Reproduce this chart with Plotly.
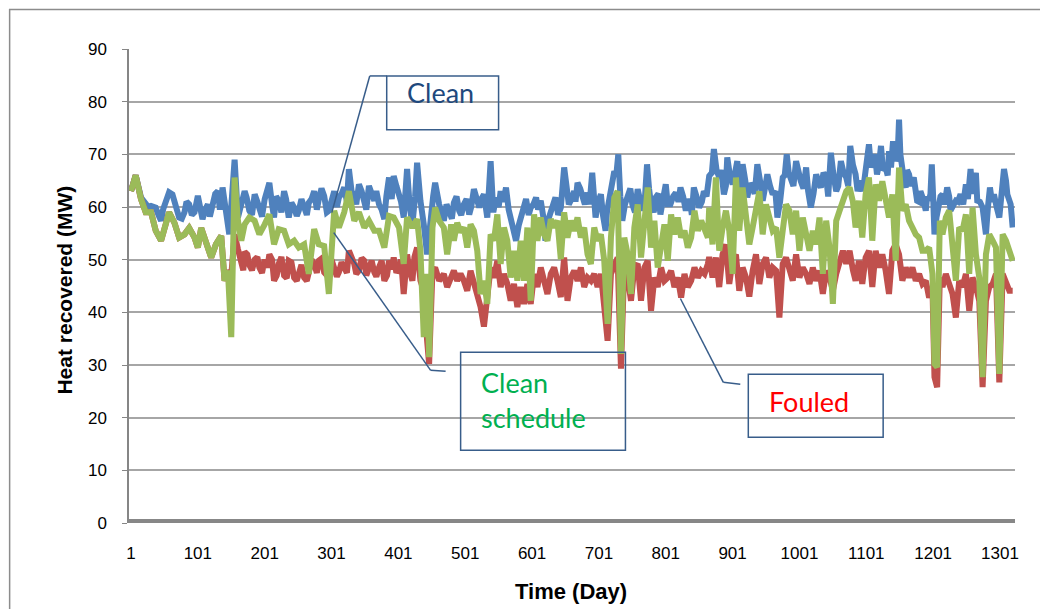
import plotly.graph_objects as go

# ---------------- data ----------------
clean_days = [1, 8, 16, 23, 31, 38, 46, 53, 63, 73, 81, 88, 96, 101, 108, 116, 123, 131, 138, 143, 148, 156, 161, 171, 178, 186, 193, 201, 208,
              215, 222, 230, 237, 245, 252, 260, 267, 275, 282, 290, 297, 305, 312, 320, 327, 335, 342, 350, 357, 365, 372, 380, 387, 394, 402, 409, 414, 422, 429,
              434, 439, 444, 450, 456, 462, 469, 477, 484, 492, 499, 507, 514, 522, 529, 534, 539, 547, 554, 562, 569, 577, 584, 592, 599, 607, 614, 621, 629, 636, 644, 649,
              656, 664, 669, 676, 684, 691, 696, 704, 711, 716, 724, 730, 736, 744, 751, 759, 766, 773, 779, 786, 793, 801, 808, 816, 823, 831, 838, 843, 851, 858, 866,
              873, 881, 888, 893, 901, 908, 916, 923, 931, 938, 946, 953, 961, 968, 976, 982, 988, 996, 1003, 1011, 1018, 1026, 1033, 1041, 1048, 1056, 1063, 1071, 1077,
              1085, 1092, 1100, 1105, 1112, 1117, 1123, 1130, 1135, 1141, 1145, 1150, 1155, 1160, 1165, 1172, 1177, 1182, 1190, 1195, 1199, 1203, 1210, 1215, 1222, 1227,
              1235, 1242, 1250, 1257, 1263, 1267, 1275, 1280, 1286, 1292, 1300, 1307, 1312, 1317, 1320]
clean_vals = [63, 66, 61.8, 60.5, 60.2, 59.9, 57.4, 61.2, 62.4, 58, 59, 60.5, 59, 62.1, 57.7, 60.5, 60.8, 63, 63.7, 58.6, 54.8, 69, 58, 63, 59.3, 62.4, 59.9, 61.5, 64.6,
              58, 61.2, 63, 58, 59.9, 59.3, 59.9, 60.8, 63, 61.5, 62.1, 59.3, 63, 61.8, 63.7, 67.2, 62.1, 64.3, 60.8, 64, 61.2, 60.5, 57.7, 65.6, 65.9, 62.4, 58, 67.2, 56.7, 68.4,
              61.2, 56.7, 51, 59.9, 64.6, 60.5, 57.4, 58.6, 60.8, 59.3, 60.5, 58.6, 63.4, 59.9, 62.4, 58, 68.7, 61.8, 63, 63.7, 58, 53.6, 58, 61.5, 59.9, 61.8, 61.2, 53.6, 59.3, 61.8, 59.9, 67.5,
              60.5, 63, 64.6, 61.8, 62.7, 66.5, 58, 62.4, 55.5, 61.1, 66.8, 70, 57.4, 61.8, 60.5, 63.4, 59.3, 68.1, 60.5, 61.8, 58.6, 64.3, 60.5, 62.7, 63.7, 59.3, 60.5, 63.7, 59.9, 63, 65.9,
              71, 65.6, 62.4, 69.4, 64.3, 68.7, 68.1, 61.8, 63.7, 68.1, 61.2, 66.2, 62.4, 58, 65.6, 70, 65.6, 68.7, 64.9, 67.5, 59.9, 66.2, 63.7, 65.6, 70.3, 63, 68.7, 65.6, 71.6,
              66.2, 65, 66.8, 71.9, 69.4, 66.2, 71.6, 67.5, 70.6, 72.5, 68.7, 76.6, 66.2, 63.7, 66.2, 65.6, 61.2, 63, 59.3, 61.2, 68.1, 54.8, 60.5, 62.4, 63.7, 59.3,
              61.2, 62.4, 64.3, 67.2, 64.9, 61.2, 59.9, 54.8, 63.7, 62.4, 58, 67.2, 62.4, 60.5, 56.1]

# extra in-between readings of the clean band
clean_days_extra = [27, 42, 49, 58, 68, 77, 84, 92, 105, 112, 119, 127, 134, 166, 174, 182, 190, 197, 204, 212,
                    218, 226, 233, 241, 249, 256, 264, 271, 279, 286, 294, 301, 309, 316, 324, 331, 338, 346, 353, 361, 368, 376, 383, 391, 398, 405, 418, 426,
                    436, 447, 453, 459, 466, 473, 481, 488, 495, 503, 510, 518, 525, 543, 551, 558, 566, 573, 581, 588, 596, 603, 610, 618, 625, 633, 640,
                    652, 660, 666, 673, 680, 687, 700, 707, 713, 720, 727, 733, 740, 748, 755, 763, 770, 776, 783, 790, 797, 804, 812, 820, 827, 835, 840, 847, 855, 862,
                    870, 877, 884, 891, 897, 904, 912, 920, 927, 934, 942, 950, 957, 965, 972, 979, 985, 992, 1000, 1007, 1014, 1022, 1030, 1037, 1044, 1052, 1059, 1067, 1074,
                    1081, 1088, 1096, 1102, 1108, 1114, 1120, 1126, 1133, 1138, 1148, 1152, 1158, 1162, 1168, 1175, 1180, 1186, 1192, 1197, 1201, 1206, 1212, 1218, 1225, 1231,
                    1238, 1246, 1253, 1260, 1265, 1271, 1278, 1283, 1289, 1296, 1303, 1310]
clean_vals_extra = [60, 58.5, 59.5, 62.8, 60.5, 57.8, 61, 58.5, 60, 59.5, 58.2, 62.5, 59.5, 60.5, 61.8, 58.5, 61, 58.2, 63, 60.5,
                    62, 59, 61.5, 60.8, 58.3, 61.5, 58.5, 61.5, 59.5, 63.5, 59, 61.5, 60, 62.5, 61, 63, 60.5, 63, 59.5, 62.5, 63, 59.5, 62, 61.5, 64, 61, 60, 62,
                    58, 55, 62, 62, 59, 60.5, 57.8, 62, 58.5, 61.5, 60, 61, 61.5, 59, 60, 61, 59.5, 55.5, 56.5, 60.5, 58.5, 60.5, 59.5, 58, 57.5, 60.5, 58.5,
                    64, 61.5, 61, 63.5, 60.5, 60.5, 61, 58.5, 59, 63.5, 66, 62, 60.5, 63.5, 59, 61.5, 62, 63.5, 59, 62.5, 61.5, 60.5, 62, 61, 62, 61.5, 58.5, 62, 61, 62,
                    66.5, 67, 67, 64, 66, 66, 63.5, 65, 64.5, 62.5, 65, 64, 64, 63, 61, 66, 66.5, 64, 66, 63.5, 63, 62.5, 64.5, 66.5, 62, 66, 64, 66.5, 64,
                    68, 63, 63, 68.5, 67.5, 70, 68, 67, 66, 67.5, 70, 70, 64.5, 67, 64, 63.5, 61, 61.5, 62, 62.5, 62, 58, 62, 60.5, 62, 60.5,
                    61, 60.5, 61.5, 62.5, 66.5, 61, 57.5, 60, 61, 60, 62, 65]

sched_days = [1, 8, 16, 23, 31, 38, 46, 53, 58, 66, 73, 81, 88, 96, 101, 106, 113, 121, 128, 136, 141, 146, 151, 156, 161, 166, 171, 178, 186, 193, 201, 208,
              215, 222, 230, 237, 245, 252, 260, 267, 275, 282, 290, 297, 305, 312, 320, 327, 335, 342, 350, 357, 365, 372, 380, 387, 394, 402, 409, 414, 422, 429,
              434, 439, 444, 447, 452, 456, 462, 469, 474, 480, 484, 489, 494, 499, 504, 509, 514, 519, 524, 529, 534, 539, 544, 549, 554, 559, 564, 569, 574, 579, 584, 589, 594, 599, 604, 609, 614, 619, 624, 629, 634, 639, 644, 649,
              654, 659, 664, 669, 674, 679, 684, 689, 694, 699, 704, 709, 714, 719, 724, 729, 734, 739, 744, 749, 754, 759, 764, 769, 774, 779, 784, 789, 794, 799, 804, 809, 814, 819, 824, 829, 834, 839, 844, 849, 854, 859, 864,
              866, 871, 876, 881, 886, 891, 896, 901, 906, 911, 916, 921, 926, 931, 936, 941, 946, 951, 956, 961, 966, 971, 976, 981, 986, 991, 996, 1001, 1006, 1011, 1016, 1021, 1026, 1031, 1036, 1041, 1046, 1051, 1056, 1061, 1066, 1071, 1076,
              1081, 1085, 1090, 1095, 1100, 1105, 1110, 1115, 1120, 1125, 1130, 1135, 1140, 1145, 1150, 1155, 1160, 1165, 1170, 1175, 1180, 1185, 1190, 1195, 1200, 1203, 1207, 1211, 1215, 1220, 1225, 1230, 1235, 1240, 1245, 1250, 1255, 1260, 1265, 1270, 1275, 1280, 1285, 1290, 1295, 1300, 1305, 1310, 1315, 1320]
sched_vals = [63, 66, 61.5, 59, 59, 55.5, 53.6, 57.4, 59, 57, 54.2, 54.8, 56, 54.2, 52.3, 56, 53.6, 50.4, 52.9, 54.5, 46, 47.9, 35.3, 65.6, 57.4, 53.6, 56.7, 58, 57.4, 54.8, 56.7, 58.6,
              52.9, 55.8, 55.5, 52.9, 53.6, 52.3, 52.9, 47.3, 55.8, 52.9, 52.6, 43.5, 59.3, 56.1, 59, 63, 57.4, 59, 56.1, 57.4, 55.5, 55.5, 52.3, 58.3, 58, 56.1, 49.2, 58, 56.1, 57.7,
              51.7, 35.3, 47.3, 31.5, 56.1, 59.9, 57.4, 56.1, 51, 56.7, 53.6, 57, 55.2, 56.1, 52.3, 56.7, 55.5, 51.7, 43.5, 46, 41.6, 54.8, 53.6, 58.6, 49.2, 56.1, 53.6, 46.6, 51.7, 46, 53.6, 46, 56.1, 42.2, 58.6, 53.6, 58, 54.8, 53.6, 57.7, 56.1, 57.4, 50.1, 59,
              54.2, 57.4, 55.5, 58, 54.2, 56.1, 51, 49.2, 56.1, 53.6, 54.8, 49.8, 37.8, 54.2, 61.8, 63, 32.1, 54.2, 51, 43.5, 56.1, 60.5, 50.4, 57.4, 63.7, 52.3, 57.4, 48.5, 53.6, 56.7, 49.8, 58.6, 54.8, 58, 54.2, 55.5, 52.3, 54.2, 59.3, 55.5, 57.4, 56.1, 54.2,
              59.9, 52.9, 65.6, 51.7, 56.1, 59.3, 55.5, 47.3, 65.6, 55.5, 63.7, 57.4, 52.9, 56.1, 59.9, 63, 54.8, 60.5, 58, 55.5, 56.1, 50.4, 55.5, 60.5, 59.3, 54.8, 59.3, 51.7, 58, 54.2, 51.7, 55.5, 52.9, 58, 47.3, 57.4, 52.3, 41.6, 57.4, 59.3, 61.2, 63, 63.7,
              61, 56.1, 61.2, 54.2, 62.4, 65.6, 53.6, 64.3, 61.2, 64.9, 61.8, 58, 62.4, 49.8, 67.5, 59.3, 60.5, 57.4, 56.1, 54.8, 54.2, 51.7, 51.7, 52.3, 47.3, 30.2, 29.6, 57.4, 54.8, 58, 59.3, 53.6, 46, 56.1, 55.5, 58.6, 47.3, 59.9, 51, 46.6, 27.7, 51, 54.8, 53.6, 52.3, 28.3, 54.8, 53.6, 51.7, 49.8]

fouled_days = [1, 8, 16, 23, 31, 38, 46, 53, 58, 66, 73, 81, 88, 96, 101, 106, 113, 121, 128, 136, 141, 146, 151, 156, 161, 166, 171, 178, 186, 193, 201, 208,
               215, 222, 230, 237, 245, 252, 260, 267, 275, 282, 290, 297, 305, 312, 320, 327, 335, 342, 350, 357, 365, 372, 380, 387, 394, 402, 409, 414, 422, 429,
               434, 439, 444, 447, 452, 456, 462, 469, 474, 480, 484, 489, 494, 499, 504, 509, 514, 519, 524, 529, 534, 539, 544, 549, 554, 559, 564, 569, 574, 579, 584, 589, 594, 599, 604, 609, 614, 619, 624, 629, 634, 639, 644, 649,
               654, 659, 664, 669, 674, 679, 684, 689, 694, 699, 704, 709, 714, 719, 724, 729, 734, 739, 744, 749, 754, 759, 764, 769, 774, 779, 784, 789, 794, 799, 804, 809, 814, 819, 824, 829, 834, 839, 844, 849, 854, 859, 864,
               866, 871, 876, 881, 886, 891, 896, 901, 906, 911, 916, 921, 926, 931, 936, 941, 946, 951, 956, 961, 966, 971, 976, 981, 986, 991, 996, 1001, 1006, 1011, 1016, 1021, 1026, 1031, 1036, 1041, 1046, 1051, 1056, 1061, 1066, 1071, 1076,
               1081, 1085, 1090, 1095, 1100, 1105, 1110, 1115, 1120, 1125, 1130, 1135, 1140, 1145, 1150, 1155, 1160, 1165, 1170, 1175, 1180, 1185, 1190, 1195, 1200, 1203, 1207, 1211, 1215, 1220, 1225, 1230, 1235, 1240, 1245, 1250, 1255, 1260, 1265, 1270, 1275, 1280, 1285, 1290, 1295, 1300, 1305, 1310, 1315, 1320]
fouled_vals = [63, 66, 61.5, 59, 59, 55.5, 53.6, 57.4, 59, 57, 54.2, 54.8, 56, 54.2, 52.3, 56, 53.6, 50.4, 52.9, 54.5, 46, 47.9, 47, 54.8, 52, 49, 51.5, 49, 50, 48.5, 50, 51,
               46, 49.2, 47, 49.8, 46.6, 47.3, 46.6, 47.6, 49.2, 49.8, 47.6, 46.6, 48.5, 47.6, 48.5, 51.7, 49.2, 47.9, 49.8, 48.5, 47.6, 48.5, 46, 49.8, 50.4, 48.5, 43.5, 51, 46, 52.3,
               46, 44.1, 34.6, 30.2, 47.9, 48.5, 46, 47.3, 44.8, 46.6, 47.9, 46, 47.3, 46, 44.1, 47.9, 45.4, 42.9, 41, 37.3, 42.2, 48.5, 46.6, 49.8, 44.8, 47.3, 45.4, 42.2, 45.4, 41, 44.8, 41.6, 45.4, 41.6, 47.3, 44.8, 48.5, 46, 43.5, 47.3, 48.5, 46, 42.9, 50.4,
               42.2, 46.6, 47.9, 46, 48.5, 44.8, 46.6, 46, 47.3, 44.8, 47.3, 41, 34.6, 47.3, 49.2, 50.4, 29.3, 49.2, 46.6, 42.2, 48.5, 49.2, 42.2, 48.5, 49.8, 40.3, 46.6, 44.8, 48.5, 46, 46.6, 47.9, 44.8, 46.6, 42.8, 47.3, 44.8, 46, 48.5, 46.6, 47.9, 47.3, 49.2,
               50.5, 46.6, 50.4, 44.8, 51, 52.9, 45.4, 49.8, 51, 44.1, 48.5, 46.6, 43, 47.9, 51, 45.4, 49.2, 50.4, 46.6, 48.5, 47.9, 39, 49.2, 50.4, 48.5, 46, 51, 46.6, 48.5, 47.3, 45.4, 48.5, 46, 47.9, 43.5, 47.9, 46.6, 44.1, 47.3, 49.8, 51.7, 49.2, 51.7,
               48, 46, 49.8, 45.4, 50.4, 51.7, 44.8, 51.7, 48.5, 51, 47.9, 43.5, 51.7, 52.9, 51, 46, 48.5, 46.6, 48.5, 46, 47.3, 45.4, 46, 42.8, 44.8, 27.7, 25.8, 46.6, 44.8, 47.3, 45.4, 43.5, 39, 46, 44.8, 47.3, 40.3, 46.6, 44.8, 42.2, 25.8, 42.2, 44.8, 45.4, 47.3, 26.7, 47.3, 45.4, 44.1, 44.1]

# extra in-between readings of the fouled band (days 160-430)
fouled_days_extra = [164, 169, 175, 182, 190, 197, 205, 212, 219, 226, 234, 241, 249, 256, 264, 271, 279, 286, 294, 301, 309, 316, 324, 331, 338, 346, 353, 361, 368, 376, 384, 391, 398, 405, 418, 425]
fouled_vals_extra = [50.5, 48, 51, 48, 50.5, 47.5, 48.5, 50, 47, 50.5, 46.5, 49.5, 46, 49, 46, 50, 47.5, 50.2, 47, 50, 46.8, 49.5, 47.5, 50.5, 47.3, 50.3, 47, 49.8, 46.8, 49.8, 47, 48.2, 47.5, 50, 47.8, 50.5]

tick_days = [1, 101, 201, 301, 401, 501, 601, 701, 801, 901, 1001, 1101, 1201, 1301]
tick_text = [str(d) for d in tick_days]
y_ticks = [0, 10, 20, 30, 40, 50, 60, 70, 80, 90]


def merged(days_a, vals_a, days_b, vals_b):
    pairs = sorted(zip(days_a + days_b, vals_a + vals_b))
    return [d for d, _ in pairs], [v for _, v in pairs]


clean_x, clean_y = merged(clean_days, clean_vals, clean_days_extra, clean_vals_extra)
fouled_x, fouled_y = merged(fouled_days, fouled_vals, fouled_days_extra, fouled_vals_extra)

# ---------------- figure ----------------
W, H = 1048, 609
OFF = 7.5                        # page offset of the figure inside the browser window
L, R, T, B = 128, 1015, 48, 523  # plot area in window pixels


def px(x):
    return (x - L) / (R - L)


def py(y):
    return (B - y) / (B - T)


NARROW = "Liberation Sans, Arial, sans-serif"
CAL = "Lato, Carlito, Open Sans, sans-serif"

fig = go.Figure()
fig.add_trace(go.Scatter(x=clean_x, y=clean_y, mode="lines", name="Clean",
                         line=dict(color="#4F81BD", width=6)))
fig.add_trace(go.Scatter(x=fouled_x, y=fouled_y, mode="lines", name="Fouled",
                         line=dict(color="#C0504D", width=6)))
fig.add_trace(go.Scatter(x=sched_days, y=sched_vals, mode="lines", name="Clean schedule",
                         line=dict(color="#9BBB59", width=6)))

shapes = []
# outer chart frame
shapes.append(dict(type="rect", xref="paper", yref="paper", x0=px(8.5), x1=px(1045), y0=py(640), y1=py(8.5),
                   line=dict(color="#8C8C8C", width=1.5), layer="below"))
# thick category axis at zero
shapes.append(dict(type="line", xref="paper", yref="y", x0=0, x1=1, y0=0, y1=0,
                   line=dict(color="#878787", width=8), layer="above"))

BOXC = "#385D8A"
for (x0, y0, x1, y1) in [(386, 75, 498, 129), (460, 352, 625, 450), (748, 374, 883, 437)]:
    shapes.append(dict(type="rect", xref="paper", yref="paper", x0=px(x0), x1=px(x1), y0=py(y1), y1=py(y0),
                       line=dict(color=BOXC, width=1.5), fillcolor="rgba(255,255,255,0)", layer="above"))
leaders = [
    [(386, 75), (369, 75), (331, 212)],
    [(333, 232), (430, 370), (445, 371)],
    [(680, 298), (723, 382), (740, 384)],
]
for pts in leaders:
    for (a, b) in zip(pts[:-1], pts[1:]):
        shapes.append(dict(type="line", xref="paper", yref="paper", x0=px(a[0]), y0=py(a[1]),
                           x1=px(b[0]), y1=py(b[1]), line=dict(color=BOXC, width=1.5), layer="above"))

annotations = [
    dict(text="Clean", x=px(404), y=py(92), xanchor="left", yanchor="middle",
         font=dict(family=CAL, size=27, color="#1F497D")),
    dict(text="Clean", x=px(478), y=py(382), xanchor="left", yanchor="middle",
         font=dict(family=CAL, size=27, color="#00B050")),
    dict(text="schedule", x=px(478), y=py(417), xanchor="left", yanchor="middle",
         font=dict(family=CAL, size=27, color="#00B050")),
    dict(text="Fouled", x=px(767), y=py(401), xanchor="left", yanchor="middle",
         font=dict(family=CAL, size=27, color="#FF0000")),
    dict(text="<b>Heat recovered (MW)</b>", x=px(63), y=py(290), textangle=-90,
         xanchor="center", yanchor="middle", font=dict(family=NARROW, size=21, color="#000000")),
    dict(text="<b>Time (Day)</b>", x=px(570), y=py(592), xanchor="center", yanchor="middle",
         font=dict(family=NARROW, size=22, color="#000000")),
]
for a in annotations:
    a.update(xref="paper", yref="paper", showarrow=False)

fig.update_layout(
    width=W, height=H,
    margin=dict(l=L - OFF, r=W - R + OFF, t=T - OFF, b=H - B + OFF, pad=0),
    paper_bgcolor="white", plot_bgcolor="white",
    showlegend=False,
    shapes=shapes, annotations=annotations,
    xaxis=dict(range=[1 - 2 / 0.6692, 1 + (R - 130) / 0.6692], tickmode="array", tickvals=tick_days,
               ticktext=tick_text, showgrid=False, zeroline=False, showline=False, ticks="",
               ticklabelstandoff=18,
               tickfont=dict(family=NARROW, size=17, color="#000000")),
    yaxis=dict(range=[0, 90], tickmode="array", tickvals=y_ticks, showgrid=True, gridcolor="#A6A6A6",
               gridwidth=2, zeroline=False, showline=True, linecolor="#868686", linewidth=1.5,
               ticks="outside", ticklen=5, tickcolor="#868686", ticklabelstandoff=12,
               tickfont=dict(family=NARROW, size=17, color="#000000")),
)

fig.write_html("out.html")
